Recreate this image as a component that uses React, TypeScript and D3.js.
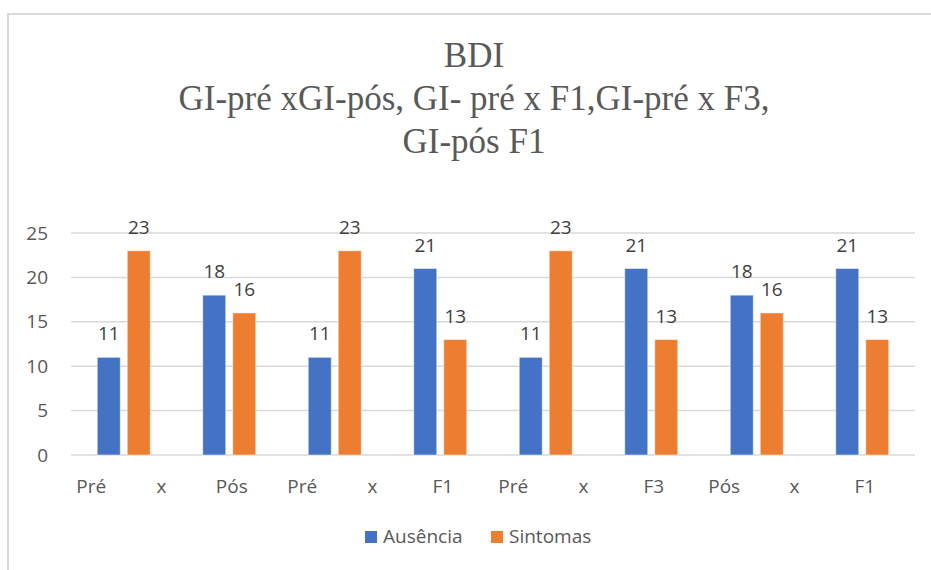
import React from "react";
import * as d3 from "d3";

const groups = ["GI-pré", "GI-pós", "GI-pré", "F1", "GI-pré", "F3", "GI-pós", "F1"];
const ausencia = [11, 18, 11, 21, 11, 21, 18, 21];
const sintomas = [23, 16, 23, 13, 23, 13, 16, 13];
const seriesNames = ["Ausência", "Sintomas"];
const seriesColors = ["#4472C4", "#ED7D31"];
const axisLabels = ["Pré", "x", "Pós", "Pré", "x", "F1", "Pré", "x", "F3", "Pós", "x", "F1"];
const yTicks = [0, 5, 10, 15, 20, 25];
const titleLines = ["BDI", "GI-pré xGI-pós, GI- pré x F1,GI-pré x F3,", "GI-pós F1"];

const W = 931;
const H = 570;
const plotL = 71;
const plotR = 915;
const plotT = 233;
const plotB = 455;
const sans = "'Open Sans', 'Noto Sans', sans-serif";
const fs = 19;

export default function App() {
  const x = d3.scaleBand<number>().domain(groups.map((_, i) => i)).range([plotL, plotR]).padding(0);
  const inner = d3
    .scaleBand<string>()
    .domain(seriesNames)
    .range([0, x.bandwidth()])
    .paddingInner(7 / 30)
    .paddingOuter(0.875);
  const y = d3.scaleLinear().domain([0, 25]).range([plotB, plotT]);
  const xl = d3.scaleBand<number>().domain(axisLabels.map((_, i) => i)).range([plotL, plotR]);
  const values = [ausencia, sintomas];

  return (
    <svg
      width={W}
      height={H}
      viewBox={`0 0 ${W} ${H}`}
      style={{ position: "absolute", left: 0, top: 0, display: "block", background: "#fff" }}
    >
      <rect x={8} y={14} width={W + 20} height={H + 20} fill="#fff" stroke="#d9d9d9" strokeWidth={2} />
      {titleLines.map((t, i) => (
        <text
          key={i}
          x={474}
          y={67 + i * 43}
          textAnchor="middle"
          fontFamily="'Liberation Serif', 'Times New Roman', serif"
          fontSize={35}
          fill="#595959"
        >
          {t}
        </text>
      ))}
      {yTicks.map((t) => (
        <g key={t}>
          <line x1={plotL} x2={plotR} y1={y(t)} y2={y(t)} stroke="#d9d9d9" strokeWidth={1.5} />
          <text
            x={48}
            y={y(t)}
            dy="0.35em"
            textAnchor="end"
            fontFamily={sans}
            fontSize={fs}
            fill="#595959"
          >
            {t}
          </text>
        </g>
      ))}
      {groups.map((g, i) => (
        <g key={i} transform={`translate(${x(i)},0)`}>
          {seriesNames.map((s, si) => {
            const v = values[si][i];
            const bx = inner(s)!;
            return (
              <g key={s}>
                <rect
                  x={bx}
                  y={y(v)}
                  width={inner.bandwidth()}
                  height={y(0) - y(v)}
                  fill={seriesColors[si]}
                  stroke="#ffffff"
                  strokeOpacity={0.5}
                  strokeWidth={1}
                />
                <text
                  x={bx + inner.bandwidth() / 2}
                  y={y(v) - 17}
                  textAnchor="middle"
                  fontFamily={sans}
                  fontSize={fs}
                  fill="#404040"
                >
                  {v}
                </text>
              </g>
            );
          })}
        </g>
      ))}
      {axisLabels.map((l, i) => (
        <text
          key={i}
          x={xl(i)! + xl.bandwidth() / 2 - 15}
          y={493}
          textAnchor="middle"
          fontFamily={sans}
          fontSize={fs}
          fill="#595959"
        >
          {l}
        </text>
      ))}
      <g>
        <rect x={365} y={531} width={12} height={12} fill={seriesColors[0]} />
        <text x={383} y={543} fontFamily={sans} fontSize={fs} fill="#595959">
          {seriesNames[0]}
        </text>
        <rect x={491} y={531} width={12} height={12} fill={seriesColors[1]} />
        <text x={509} y={543} fontFamily={sans} fontSize={fs} fill="#595959">
          {seriesNames[1]}
        </text>
      </g>
    </svg>
  );
}
